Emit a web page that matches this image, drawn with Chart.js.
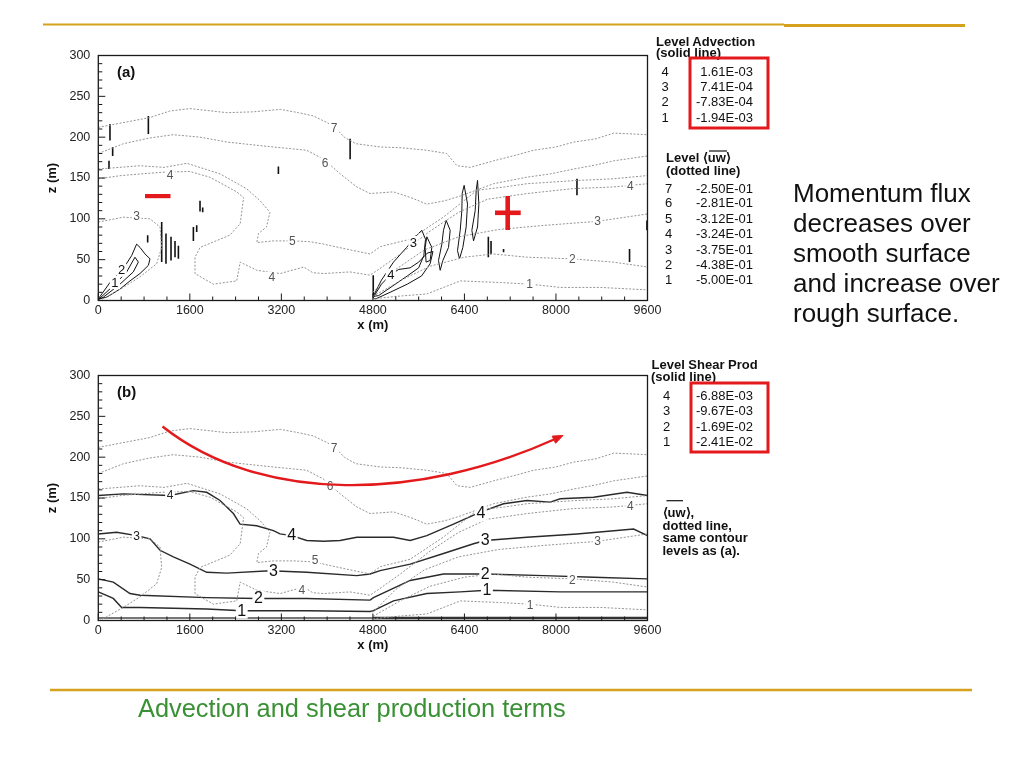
<!DOCTYPE html>
<html>
<head>
<meta charset="utf-8">
<script src="https://cdn.jsdelivr.net/npm/chart.js@4.4.1/dist/chart.umd.min.js"></script>
<style>
html, body { margin: 0; padding: 0; background: #fff; }
#page { position: relative; width: 1024px; height: 768px; overflow: hidden; background: #fff; }
.panel { position: absolute; }
#overlay { position: absolute; left: 0; top: 0; pointer-events: none; }
</style>
</head>
<body>
<div id="page">
  <div class="panel" id="wrap-a" style="left:40px; top:45px; width:620px; height:295px"><canvas id="chart-a"></canvas></div>
  <div class="panel" id="wrap-b" style="left:40px; top:365px; width:620px; height:295px"><canvas id="chart-b"></canvas></div>

  <svg id="overlay" width="1024" height="768" viewBox="0 0 1024 768" font-family="Liberation Sans, Arial, Helvetica, sans-serif">
    <!-- slide rules -->
    <line x1="43" y1="24.5" x2="784" y2="24.5" stroke="#d6a21e" stroke-width="2"/>
    <line x1="784" y1="25.5" x2="965" y2="25.5" stroke="#d6a21e" stroke-width="3"/>
    <line x1="50" y1="690" x2="972" y2="690" stroke="#d6a21e" stroke-width="2.5"/>

    <!-- panel letters -->
    <text x="117" y="77" font-size="15" font-weight="bold" fill="#111">(a)</text>
    <text x="117" y="397" font-size="15" font-weight="bold" fill="#111">(b)</text>

    <!-- legend (a) -->
    <g font-size="13" fill="#111">
      <text x="656" y="45.5" font-weight="bold">Level Advection</text>
      <text x="656" y="57" font-weight="bold">(solid line)</text>
      <text x="661.5" y="76.3">4</text><text x="753" y="76.3" text-anchor="end">1.61E-03</text>
      <text x="661.5" y="91.3">3</text><text x="753" y="91.3" text-anchor="end">7.41E-04</text>
      <text x="661.5" y="106.3">2</text><text x="753" y="106.3" text-anchor="end">-7.83E-04</text>
      <text x="661.5" y="122">1</text><text x="753" y="122" text-anchor="end">-1.94E-03</text>

      <text x="666" y="161.5" font-weight="bold">Level ⟨uw⟩</text>
      <line x1="709" y1="151" x2="727" y2="151" stroke="#111" stroke-width="1.2"/>
      <text x="666" y="175" font-weight="bold">(dotted line)</text>
      <text x="665" y="192.7">7</text><text x="753" y="192.7" text-anchor="end">-2.50E-01</text>
      <text x="665" y="207.4">6</text><text x="753" y="207.4" text-anchor="end">-2.81E-01</text>
      <text x="665" y="222.7">5</text><text x="753" y="222.7" text-anchor="end">-3.12E-01</text>
      <text x="665" y="237.7">4</text><text x="753" y="237.7" text-anchor="end">-3.24E-01</text>
      <text x="665" y="253.7">3</text><text x="753" y="253.7" text-anchor="end">-3.75E-01</text>
      <text x="665" y="268.7">2</text><text x="753" y="268.7" text-anchor="end">-4.38E-01</text>
      <text x="665" y="283.7">1</text><text x="753" y="283.7" text-anchor="end">-5.00E-01</text>
    </g>

    <!-- legend (b) -->
    <g font-size="13" fill="#111">
      <text x="651.5" y="368.5" font-weight="bold">Level Shear Prod</text>
      <text x="651" y="381" font-weight="bold">(solid line)</text>
      <text x="663" y="399.6">4</text><text x="753" y="399.6" text-anchor="end">-6.88E-03</text>
      <text x="663" y="415.3">3</text><text x="753" y="415.3" text-anchor="end">-9.67E-03</text>
      <text x="663" y="430.6">2</text><text x="753" y="430.6" text-anchor="end">-1.69E-02</text>
      <text x="663" y="445.6">1</text><text x="753" y="445.6" text-anchor="end">-2.41E-02</text>

      <line x1="666.5" y1="500.7" x2="683" y2="500.7" stroke="#111" stroke-width="1.2"/>
      <text x="662.5" y="517" font-weight="bold">⟨uw⟩,</text>
      <text x="662.5" y="529.5" font-weight="bold">dotted line,</text>
      <text x="662.5" y="542" font-weight="bold">same contour</text>
      <text x="662.5" y="554.5" font-weight="bold">levels as (a).</text>
    </g>

    <!-- red highlight boxes and marks -->
    <rect x="690" y="58" width="78" height="70" fill="none" stroke="#e3191c" stroke-width="3"/>
    <rect x="691" y="383" width="77" height="69" fill="none" stroke="#e3191c" stroke-width="3"/>
    <rect x="145" y="194" width="25.5" height="4.2" fill="#e3191c"/>
    <rect x="495" y="210.5" width="25.7" height="4.6" fill="#e3191c"/>
    <rect x="505.4" y="196" width="4.6" height="34" fill="#e3191c"/>
    <path d="M162.5,426.5 C262,505 420,500 554,439.5" fill="none" stroke="#e3191c" stroke-width="2.4"/>
    <polygon points="563,435.5 555.6,443.3 552.2,436.1" fill="#e3191c" stroke="#e3191c" stroke-width="1"/>

    <!-- side note -->
    <g font-size="26" fill="#111">
      <text x="793" y="201.7">Momentum flux</text>
      <text x="793" y="231.7">decreases over</text>
      <text x="793" y="261.7">smooth surface</text>
      <text x="793" y="291.7">and increase over</text>
      <text x="793" y="321.7">rough surface.</text>
    </g>

    <text x="138" y="717" font-size="25.4" fill="#3a9135">Advection and shear production terms</text>
  </svg>
</div>

<script>
// axis ticks
const xTicks = [0, 1600, 3200, 4800, 6400, 8000, 9600];
const zTicks = [0, 50, 100, 150, 200, 250, 300];

// <uw> contours (dotted), same levels in both panels
const uw7 = [[0,212],[300,216],[900,224],[1250,232],[1600,235],[2250,230],[2700,231],[3180,234],[3500,230],[3760,226],[4110,214],[4300,200],[4500,192],[4930,188],[5300,187],[5740,184],[6090,180],[6270,165],[6500,163],[6910,171],[7300,178],[7610,184],[8000,188],[8310,194],[8700,198],[9010,205],[9600,203]];
const uw6 = [[0,180],[440,192],[900,199],[1310,203],[1780,200],[2250,194],[2650,191],[3060,188],[3640,184],[3940,173],[4230,155],[4520,139],[4750,131],[5160,133],[5500,125],[5740,118],[6050,122],[6330,128],[6910,143],[7490,151],[7900,155],[8310,161],[8700,166],[9010,171],[9600,177]];
const uw5 = [[0,161],[730,165],[1150,163],[1550,168],[2130,155],[2590,137],[2830,122],[3000,108],[2940,90],[2800,82],[2770,71],[3060,73],[3410,73],[3700,72],[3940,69],[4400,62],[4750,57],[4930,66],[5450,75],[6030,102],[6620,135],[7100,139],[7490,143],[8370,147],[9000,149],[9600,153]];
const uw4 = [[0,149],[400,153],[1100,157],[1600,158],[1950,151],[2420,133],[2540,126],[2480,94],[2300,80],[1780,65],[1690,53],[1690,33],[2010,20],[2420,24],[2480,47],[2770,37],[3180,33],[3590,41],[3750,34],[3940,33],[4400,35],[4750,31],[4900,38],[5300,58],[5800,85],[6300,108],[6800,124],[7500,131],[8300,137],[9000,139],[9600,143]];
const uw3Left = [[0,96],[437,102],[904,100],[1079,90],[1108,65],[1020,45],[729,29],[437,16],[29,0]];
const uw3Right = [[4800,10],[5200,38],[5700,62],[6300,78],[7000,87],[7800,92],[8730,97],[9600,106]];
const uw2 = [[4800,5],[5300,25],[5800,42],[6400,53],[6900,57],[7500,53],[8280,51],[9000,47],[9600,41]];
const uw1 = [[4800,2],[5200,5],[5740,8],[6330,24],[7030,22],[7540,20],[8080,16],[8780,16],[9600,13]];

// advection contours (solid), panel (a)
const advOuter = [[0,2],[204,22],[437,39],[583,55],[670,69],[729,65],[816,57],[904,51],[875,43],[729,33],[554,24],[379,14],[146,4],[0,2]];
const advInner = [[0,1],[262,18],[496,35],[641,53],[700,47],[612,35],[379,20],[87,4],[0,1]];
const advLoopA = [[6395,141],[6454,118],[6430,90],[6372,65],[6314,51],[6279,61],[6326,86],[6355,110],[6361,131],[6395,141]];
const advLoopB = [[6629,147],[6652,118],[6629,90],[6559,73],[6530,86],[6588,110],[6606,135],[6629,147]];
const advLoopC = [[6081,98],[6151,86],[6122,65],[6023,49],[5976,37],[5947,49],[6005,69],[6034,86],[6081,98]];
const advLoopD = [[5743,78],[5830,65],[5800,49],[5730,47],[5713,65],[5743,78]];
const adv3Right = [[4805,5],[4950,25],[5160,47],[5390,65],[5570,80],[5655,86],[5720,75],[5690,55],[5600,40],[5400,30],[5150,18],[4900,6],[4805,5]];
const adv4Right = [[4800,3],[4950,20],[5100,31],[5250,38],[5450,40],[5600,47],[5750,58],[5850,60],[5800,45],[5650,30],[5400,20],[5100,10],[4850,2],[4800,3]];
// short vertical solid strokes: [x, z bottom, z top]
const advStrokes = [[875,204,226],[204,196,216],[251,177,188],[187,161,171],[4402,173,198],[3148,155,164],[1778,109,122],[1825,108,114],[1662,73,90],[1720,84,92],[1108,47,96],[1183,45,82],[1271,49,78],[1341,53,73],[1400,51,67],[863,71,80],[8367,129,149],[9286,47,63],[9590,86,98],[6818,53,78],[6865,57,73],[7084,59,63],[4806,4,31]];

// shear production contours (solid), panel (b)
const shear4 = [[0,153],[437,155],[1253,153],[1662,159],[1895,157],[2128,147],[2361,131],[2478,118],[2769,116],[3061,110],[3177,106],[3381,104],[3644,98],[3935,97],[4227,98],[4518,102],[4751,102],[5160,102],[5452,98],[5742,104],[6209,118],[6687,133],[7084,143],[7492,147],[7900,145],[8075,149],[8658,151],[9241,157],[9600,153]];
const shear3 = [[0,106],[320,108],[670,104],[904,100],[1079,86],[1312,78],[1603,69],[1895,59],[2245,58],[3002,61],[3644,59],[4518,55],[4751,57],[4926,61],[5452,69],[6034,82],[6559,94],[6763,98],[7492,102],[8367,106],[9358,112],[9600,104]];
const shear2 = [[0,51],[262,47],[554,33],[729,31],[1895,28],[2769,27],[3644,27],[4751,25],[4810,28],[5452,49],[6034,57],[6763,57],[7783,55],[8658,53],[9600,51]];
const shear1 = [[0,35],[262,27],[408,16],[729,16],[1895,14],[2507,12],[3644,12],[4751,11],[4810,12],[5160,24],[5742,33],[6326,35],[6793,37],[8075,35],[9600,35]];
const groundSmooth = [[0,3],[4800,3]];
const groundRough = [[4800,3],[9600,3]];

// contour labels: [x, z, text]
const uwLabelsA = [[4122,211,'7'],[3964,168,'6'],[3393,73,'5'],[1253,153,'4'],[3032,28,'4'],[670,103,'3'],[9298,140,'4'],[8728,97,'3'],[8285,50,'2'],[7538,20,'1']];
const advLabelsA = [[5509,71,'3'],[5113,31,'4'],[408,37,'2'],[291,22,'1']];
const uwLabelsB = [[4122,211,'7'],[4052,165,'6'],[3790,74,'5'],[3556,37,'4'],[9298,140,'4'],[8728,97,'3'],[8285,49,'2'],[7549,19,'1']];
const shearLabelsSmall = [[1253,153,'4'],[670,103,'3']];
const shearLabelsBig = [[3381,104,'4'],[3061,60,'3'],[2798,27,'2'],[2507,12,'1'],[6687,131,'4'],[6763,98,'3'],[6763,57,'2'],[6793,37,'1']];

Chart.defaults.font.family = '"Liberation Sans", Arial, Helvetica, sans-serif';

function line(pts, color, width, dash) {
    return {
        data: pts.map(p => ({ x: p[0], y: p[1] })),
        showLine: true,
        borderColor: color,
        borderWidth: width,
        borderDash: dash || [],
        pointRadius: 0,
        fill: false,
        tension: 0
    };
}

function dotted(pts) {
    return line(pts, '#949494', 1, [2, 1.6]);
}

// contour labels, plot frame and inward tick marks (Tecplot look)
function framePlugin(labelGroups) {
    return {
        id: 'frame',
        afterDatasetsDraw(chart) {
            const { ctx, chartArea: a, scales: { x, y } } = chart;
            ctx.save();
            labelGroups.forEach(g => {
                ctx.font = g.size + 'px "Liberation Sans", Arial, sans-serif';
                ctx.textAlign = 'center';
                ctx.textBaseline = 'middle';
                g.items.forEach(([vx, vz, t]) => {
                    const px = x.getPixelForValue(vx);
                    const py = y.getPixelForValue(vz);
                    const w = ctx.measureText(t).width + 3;
                    ctx.fillStyle = '#fff';
                    ctx.fillRect(px - w / 2, py - g.size / 2, w, g.size);
                    ctx.fillStyle = g.color;
                    ctx.fillText(t, px, py + 0.5);
                });
            });

            ctx.strokeStyle = '#1a1a1a';
            ctx.lineWidth = 1.3;
            ctx.strokeRect(a.left, a.top, a.right - a.left, a.bottom - a.top);

            ctx.lineWidth = 1;
            ctx.beginPath();
            for (let v = 0; v <= 9600; v += 400) {
                const px = x.getPixelForValue(v);
                const len = v % 1600 === 0 ? 7 : 4;
                ctx.moveTo(px, a.bottom);
                ctx.lineTo(px, a.bottom - len);
            }
            for (let v = 0; v <= 300; v += 10) {
                const py = y.getPixelForValue(v);
                const len = v % 50 === 0 ? 7 : 4;
                ctx.moveTo(a.left, py);
                ctx.lineTo(a.left + len, py);
            }
            ctx.stroke();
            ctx.restore();
        }
    };
}

function makeOptions() {
    return {
        responsive: true,
        maintainAspectRatio: false,
        animation: false,
        layout: { padding: { left: 0, right: 12.5, top: 10, bottom: 0 } },
        plugins: { legend: { display: false }, tooltip: { enabled: false } },
        scales: {
            x: {
                type: 'linear',
                min: 0,
                max: 9600,
                grid: { display: false, drawTicks: false },
                border: { display: false },
                afterBuildTicks: s => { s.ticks = xTicks.map(v => ({ value: v })); },
                afterFit: s => { s.height = 40; },
                ticks: { padding: 3, color: '#222', font: { size: 12.5 }, maxRotation: 0, autoSkip: false, callback: v => String(v) },
                title: { display: true, text: 'x (m)', color: '#111', font: { size: 13, weight: 'bold' }, padding: { top: 0, bottom: 7 } }
            },
            y: {
                type: 'linear',
                min: 0,
                max: 300,
                grid: { display: false, drawTicks: false },
                border: { display: false },
                afterBuildTicks: s => { s.ticks = zTicks.map(v => ({ value: v })); },
                afterFit: s => { s.width = 58.3; },
                ticks: { padding: 8, color: '#222', font: { size: 12.5 }, autoSkip: false, callback: v => String(v) },
                title: { display: true, text: 'z (m)', color: '#111', font: { size: 13, weight: 'bold' }, padding: { top: 5, bottom: 0 } }
            }
        }
    };
}

// move/resize the canvas holder so the plot frame lands on the target box
function placeChart(chart, wrap, box) {
    let a = chart.chartArea;
    const w = wrap.clientWidth + (box.right - box.left) - (a.right - a.left);
    const h = wrap.clientHeight + (box.bottom - box.top) - (a.bottom - a.top);
    wrap.style.width = w + 'px';
    wrap.style.height = h + 'px';
    chart.resize();
    a = chart.chartArea;
    wrap.style.left = (box.left - a.left) + 'px';
    wrap.style.top = (box.top - a.top) + 'px';
}

const uwAll = [uw7, uw6, uw5, uw4, uw3Left, uw3Right, uw2, uw1];

const datasetsA = uwAll.map(dotted).concat(
    [advOuter, advInner, advLoopA, advLoopB, advLoopC, advLoopD, adv3Right, adv4Right].map(p => line(p, '#111', 1)),
    advStrokes.map(s => line([[s[0], s[1]], [s[0], s[2]]], '#111', 1.6))
);

const datasetsB = uwAll.map(dotted).concat(
    [shear4, shear3, shear2, shear1].map(p => line(p, '#2a2a2a', 1.4)),
    [line(groundSmooth, '#777', 2), line(groundRough, '#333', 2.5)]
);

const chartA = new Chart(document.getElementById('chart-a'), {
    type: 'scatter',
    data: { datasets: datasetsA },
    options: makeOptions(),
    plugins: [framePlugin([
        { items: uwLabelsA, size: 12, color: '#555' },
        { items: advLabelsA, size: 13, color: '#111' }
    ])]
});

const chartB = new Chart(document.getElementById('chart-b'), {
    type: 'scatter',
    data: { datasets: datasetsB },
    options: makeOptions(),
    plugins: [framePlugin([
        { items: uwLabelsB, size: 12, color: '#555' },
        { items: shearLabelsSmall, size: 12, color: '#222' },
        { items: shearLabelsBig, size: 16, color: '#111' }
    ])]
});

placeChart(chartA, document.getElementById('wrap-a'), { left: 98.3, top: 55, right: 647.5, bottom: 300 });
placeChart(chartB, document.getElementById('wrap-b'), { left: 98.3, top: 375, right: 647.5, bottom: 620 });
</script>
</body>
</html>
